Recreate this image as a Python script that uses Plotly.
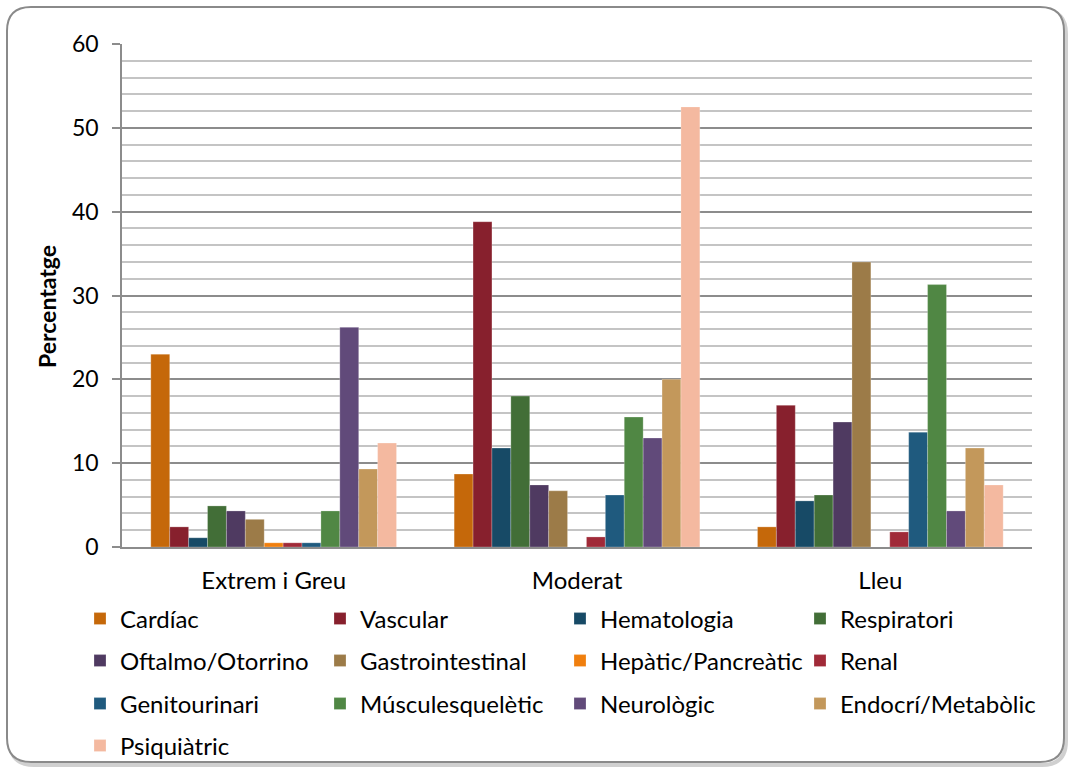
import plotly.graph_objects as go

# Severity groups on the category axis
groups = ["Extrem i Greu", "Moderat", "Lleu"]

# Percentage of cases per system, one list per series (Extrem i Greu, Moderat, Lleu)
cardiac = [23.0, 8.7, 2.4]
vascular = [2.4, 38.8, 16.9]
hematologia = [1.1, 11.8, 5.5]
respiratori = [4.9, 18.0, 6.2]
oftalmo = [4.3, 7.4, 14.9]
gastro = [3.3, 6.7, 34.0]
hepatic = [0.5, 0.0, 0.0]
renal = [0.5, 1.2, 1.8]
genito = [0.5, 6.2, 13.7]
musculo = [4.3, 15.5, 31.3]
neuro = [26.2, 13.0, 4.3]
endocri = [9.3, 20.0, 11.8]
psiquiatric = [12.4, 52.5, 7.4]

series = [
    ("Cardíac", cardiac, "#C5680A"),
    ("Vascular", vascular, "#87202D"),
    ("Hematologia", hematologia, "#174A66"),
    ("Respiratori", respiratori, "#426E37"),
    ("Oftalmo/Otorrino", oftalmo, "#4F3A61"),
    ("Gastrointestinal", gastro, "#9C7B48"),
    ("Hepàtic/Pancreàtic", hepatic, "#F07F0E"),
    ("Renal", renal, "#A02A38"),
    ("Genitourinari", genito, "#1F5A7E"),
    ("Músculesquelètic", musculo, "#508744"),
    ("Neurològic", neuro, "#614A7A"),
    ("Endocrí/Metabòlic", endocri, "#C3985B"),
    ("Psiquiàtric", psiquiatric, "#F4B9A0"),
]

FONT = "Lato, 'Open Sans', sans-serif"
W, H = 1071, 767
L, R, T, B = 122, 39, 44, 220
PW, PH = W - L - R, H - T - B


def px(x):
    return (x - L) / PW


def py(y):
    return (H - B - y) / PH


fig = go.Figure()
legend_names = ["legend", "legend2", "legend3", "legend4"]
for i, (name, vals, color) in enumerate(series):
    fig.add_trace(go.Bar(
        x=groups, y=vals, name=name,
        marker=dict(color=color, line=dict(color="rgba(255,255,255,0.3)", width=0.8)),
        legend=legend_names[i // 4],
    ))

# Legend rows, four entries per row, 240 px apart
row_y = [619, 661, 704, 746]
legend_cfg = {}
for k, ln in enumerate(legend_names):
    legend_cfg[ln] = dict(
        orientation="h", x=px(80), xanchor="left", y=py(row_y[k]), yanchor="middle",
        entrywidth=195, entrywidthmode="pixels",
        font=dict(family=FONT, size=24, color="#000000"),
        bgcolor="rgba(0,0,0,0)", borderwidth=0, itemclick=False,
    )


def rounded_rect(x0, y0, x1, y1, r):
    pts = [
        f"M {px(x0 + r)} {py(y0)}",
        f"L {px(x1 - r)} {py(y0)}",
        f"Q {px(x1)} {py(y0)} {px(x1)} {py(y0 + r)}",
        f"L {px(x1)} {py(y1 - r)}",
        f"Q {px(x1)} {py(y1)} {px(x1 - r)} {py(y1)}",
        f"L {px(x0 + r)} {py(y1)}",
        f"Q {px(x0)} {py(y1)} {px(x0)} {py(y1 - r)}",
        f"L {px(x0)} {py(y0 + r)}",
        f"Q {px(x0)} {py(y0)} {px(x0 + r)} {py(y0)}",
        "Z",
    ]
    return " ".join(pts)


shapes = [
    dict(type="path", xref="paper", yref="paper", path=rounded_rect(10, 10, 1066, 765, 24),
         line=dict(color="rgba(120,120,120,0.35)", width=4), layer="below"),
    dict(type="path", xref="paper", yref="paper", path=rounded_rect(7, 7, 1064, 762, 24),
         line=dict(color="#8a8a8a", width=2), fillcolor="white", layer="below"),
]

# Rotated y-axis title
annotations = [
    dict(text="<b>Percentatge</b>", xref="paper", yref="paper", x=px(47), y=py(307),
         xanchor="center", yanchor="middle", textangle=-90, showarrow=False,
         font=dict(family=FONT, size=23, color="#000000")),
]

fig.update_layout(
    width=W, height=H,
    margin=dict(l=L, r=R, t=T, b=B, autoexpand=False),
    paper_bgcolor="white", plot_bgcolor="rgba(0,0,0,0)",
    barmode="group", bargap=0.19, bargroupgap=0,
    font=dict(family=FONT, size=23, color="#000000"),
    shapes=shapes, annotations=annotations,
    **legend_cfg,
)

fig.update_yaxes(
    range=[0, 60], dtick=10, tick0=0,
    showgrid=True, gridcolor="#8c8c8c", gridwidth=1.5,
    minor=dict(dtick=2, showgrid=True, gridcolor="#c4c4c4", gridwidth=1.5, ticks=""),
    ticks="outside", ticklen=8, tickcolor="#8c8c8c", tickwidth=1.5,
    ticklabelstandoff=9,
    showline=True, linecolor="#8c8c8c", linewidth=1.5,
    tickfont=dict(family=FONT, size=23),
    zeroline=False,
)

fig.update_xaxes(
    showline=True, linecolor="#8c8c8c", linewidth=1.5,
    ticks="", ticklabelstandoff=11,
    tickfont=dict(family=FONT, size=24),
)

fig.write_html("out.html")
